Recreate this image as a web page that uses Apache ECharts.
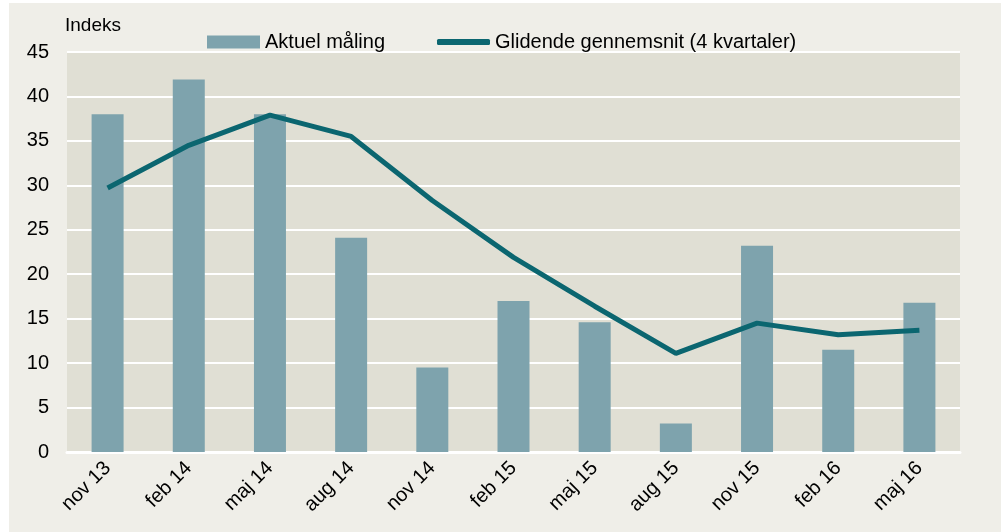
<!DOCTYPE html>
<html>
<head>
<meta charset="utf-8">
<script src="https://cdn.jsdelivr.net/npm/echarts@6/dist/echarts.min.js"></script>
<style>
  html, body { margin: 0; padding: 0; background: #ffffff; }
  #main { width: 1001px; height: 532px; }
</style>
</head>
<body>
<div id="main"></div>
<script>
// kategorier (kvartaler)
var categories = ['nov 13', 'feb 14', 'maj 14', 'aug 14', 'nov 14', 'feb 15', 'maj 15', 'aug 15', 'nov 15', 'feb 16', 'maj 16'];
// aktuel måling (søjler)
var aktuelData = [38.0, 41.9, 38.0, 24.1, 9.5, 17.0, 14.6, 3.2, 23.2, 11.5, 16.8];
// glidende gennemsnit, 4 kvartaler (linje)
var glidendeData = [29.7, 34.5, 37.9, 35.5, 28.3, 21.9, 16.4, 11.1, 14.5, 13.2, 13.7];
var yTicks = [0, 5, 10, 15, 20, 25, 30, 35, 40, 45];

var myChart = echarts.init(document.getElementById('main'));

var fontFam = 'Liberation Sans, Arial, sans-serif';

var option = {
    backgroundColor: '#ffffff',
    textStyle: { fontFamily: fontFam },
    graphic: [{
        type: 'rect',
        z: -10,
        shape: { x: 9, y: 3, width: 992, height: 529 },
        style: { fill: '#efeee8' }
    }, {
        type: 'text',
        left: 65,
        top: 16,
        style: { text: 'Indeks', fontSize: 19, fill: '#000', fontFamily: fontFam }
    }],
    legend: [{
        top: 27,
        left: 202,
        itemWidth: 53,
        itemHeight: 13,
        textStyle: { fontSize: 20, color: '#000' },
        data: [{ name: 'Aktuel måling', icon: 'rect' }]
    }, {
        top: 27,
        left: 432,
        itemWidth: 53,
        itemHeight: 6,
        textStyle: { fontSize: 20, color: '#000' },
        data: [{ name: 'Glidende gennemsnit (4 kvartaler)', icon: 'roundRect' }]
    }],
    grid: {
        left: 67,
        right: 41,
        top: 52,
        bottom: 80,
        show: true,
        backgroundColor: '#e0dfd4',
        borderWidth: 0
    },
    xAxis: {
        type: 'category',
        data: categories,
        axisLine: { show: true, lineStyle: { color: '#ffffff', width: 3 } },
        axisTick: { show: false },
        axisLabel: {
            rotate: 45,
            fontSize: 20,
            color: '#000',
            margin: 13,
            interval: 0
        }
    },
    yAxis: {
        type: 'value',
        min: yTicks[0],
        max: yTicks[yTicks.length - 1],
        interval: 5,
        axisLine: { show: false },
        axisTick: { show: false },
        axisLabel: { fontSize: 20, color: '#000', margin: 18 },
        splitLine: { lineStyle: { color: '#ffffff', width: 2 } }
    },
    series: [{
        name: 'Aktuel måling',
        type: 'bar',
        data: aktuelData,
        barWidth: 32,
        itemStyle: { color: '#7ea3ad' }
    }, {
        name: 'Glidende gennemsnit (4 kvartaler)',
        type: 'line',
        data: glidendeData,
        symbol: 'none',
        lineStyle: { color: '#0b6670', width: 5 },
        itemStyle: { color: '#0b6670' }
    }]
};

myChart.setOption(option);
</script>
</body>
</html>
